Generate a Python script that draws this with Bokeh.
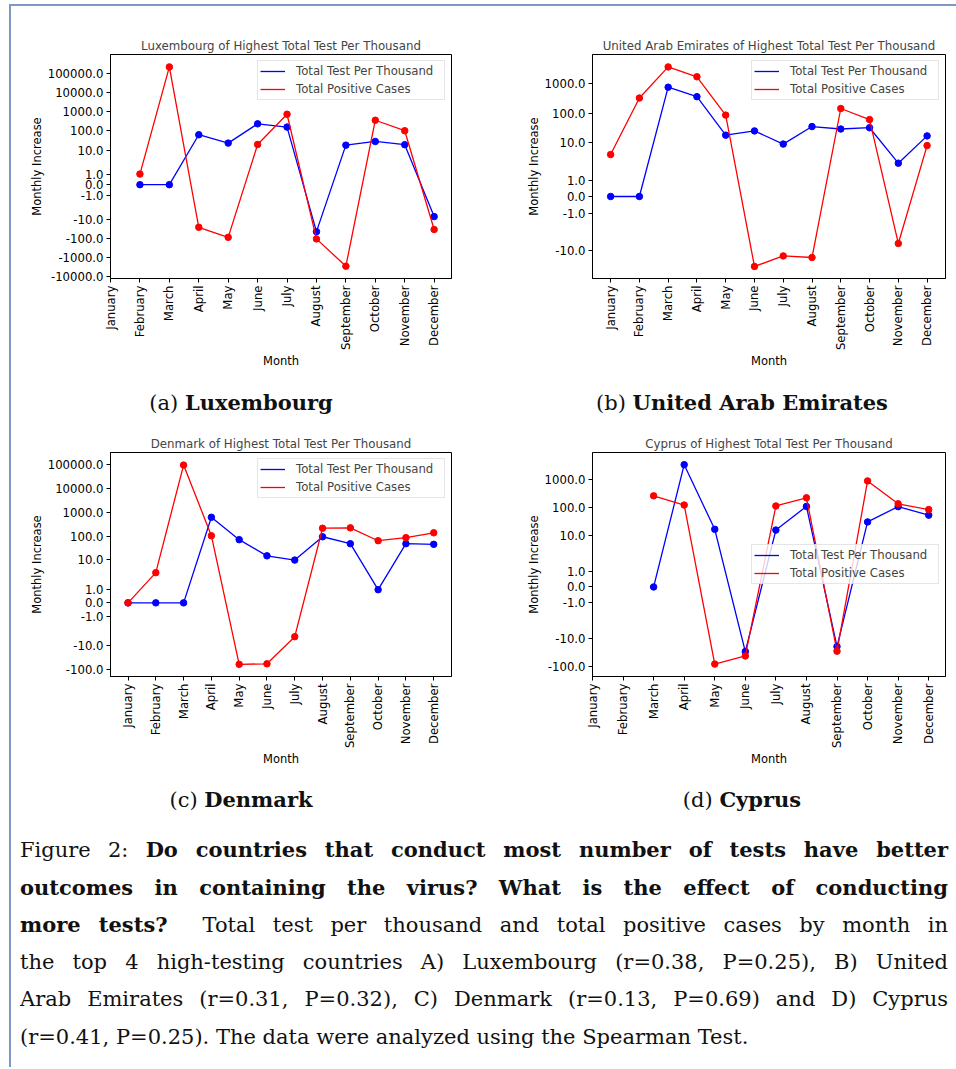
import math
from bokeh.plotting import figure
from bokeh.models import FixedTicker, CustomJSTickFormatter, Div, Range1d
from bokeh.layouts import column, row
from bokeh.embed import file_html
from bokeh.resources import INLINE

months = ["January", "February", "March", "April", "May", "June", "July",
          "August", "September", "October", "November", "December"]

# Monthly increase values (None = no data)
lux_test = [None, 0, 0, 63, 23, 234, 158, -44, 18, 28, 19, -7.2]
lux_pos = [None, 1, 219000, -26, -87, 19.5, 740, -105, -2800, 360, 102, -34]
uae_test = [0, 0, 740, 355, 18, 25, 9, 35, 29, 32, 2.05, 17]
uae_pos = [4.0, 320, 3560, 1660, 85, -35, -15.5, -17.5, 142, 60, -5.9, 8.0]
den_test = [0, 0, 0, 620, 71, 14.8, 9.8, 94, 48, 1.0, 48, 45]
den_pos = [0, 2.9, 98000, 104, -60, -57, -4.1, 215, 223, 64, 86, 138]
cyp_test = [None, None, 0, 3300, 17, -30, 16, 110, -20, 31, 108, 54]
cyp_pos = [None, None, 260, 123, -83, -43, 114, 222, -29, 880, 136, 85]

lux_yticks = [-10000, -1000, -100, -10, -1, 0, 1, 10, 100, 1000, 10000, 100000]
uae_yticks = [-10, -1, 0, 1, 10, 100, 1000]
den_yticks = [-100, -10, -1, 0, 1, 10, 100, 1000, 10000, 100000]
cyp_yticks = [-100, -10, -1, 0, 1, 10, 100, 1000]

series_names = ["Total Test Per Thousand", "Total Positive Cases"]

# symmetric log scale (linear threshold 2, linscale 1)
LT = 2.0
ADJ = 1.0 / (1.0 - 0.1)


def symlog(v):
    if abs(v) <= LT:
        return v * ADJ / LT
    return math.copysign(ADJ + math.log10(abs(v) / LT), v)


FONT = "DejaVu Sans"


def panel(title, test, pos, yticks, xr, yr, w, h, bl, br, bt, bb, legend_loc):
    p = figure(width=w, height=h, output_backend="svg", toolbar_location=None,
               x_range=Range1d(*xr), y_range=Range1d(*yr),
               min_border_left=bl, min_border_right=br,
               min_border_top=bt, min_border_bottom=bb, margin=0)
    p.title.text = title
    p.title.align = "center"
    p.title.text_font = FONT
    p.title.text_font_size = "11.8px"
    p.title.text_font_style = "normal"
    p.title.standoff = 3
    p.xgrid.visible = False
    p.ygrid.visible = False
    p.outline_line_color = "black"
    p.outline_line_width = 1
    p.background_fill_color = "white"
    p.border_fill_color = "white"

    for col, vals, name in (("#0000ff", test, series_names[0]),
                            ("#ff0000", pos, series_names[1])):
        xs = [i for i, v in enumerate(vals) if v is not None]
        ys = [symlog(v) for v in vals if v is not None]
        p.line(xs, ys, line_color=col, line_width=1.3, legend_label=name)
        p.scatter(xs, ys, size=6.5, fill_color=col, line_color=col)

    ytpos = [symlog(v) for v in yticks]
    ylabels = ["%.1f" % v for v in yticks]
    p.yaxis.ticker = FixedTicker(ticks=ytpos)
    p.yaxis.formatter = CustomJSTickFormatter(args=dict(pos=ytpos, labels=ylabels), code="""
        let best = 0, bd = 1e9;
        for (let i = 0; i < pos.length; i++) {
            const d = Math.abs(pos[i] - tick);
            if (d < bd) { bd = d; best = i; }
        }
        return labels[best];
    """)
    p.xaxis.ticker = FixedTicker(ticks=list(range(len(months))))
    p.xaxis.formatter = CustomJSTickFormatter(args=dict(months=months), code="""
        const i = Math.round(tick);
        return (i >= 0 && i < months.length) ? months[i] : "";
    """)
    p.xaxis.major_label_orientation = math.pi / 2
    p.xaxis.axis_label = "Month"
    p.yaxis.axis_label = "Monthly Increase"
    for ax in (p.xaxis[0], p.yaxis[0]):
        ax.axis_label_text_font = FONT
        ax.axis_label_text_font_size = "11.5px"
        ax.axis_label_text_font_style = "normal"
        ax.axis_label_standoff = 1
        ax.major_label_text_font = FONT
        ax.major_label_text_font_size = "11.7px"
        ax.major_label_standoff = 3
        ax.major_tick_out = 4
        ax.major_tick_in = 0
        ax.minor_tick_line_color = None
        ax.axis_line_color = "black"
        ax.major_tick_line_color = "black"
        ax.major_label_text_color = "black"
        ax.axis_label_text_color = "black"

    lg = p.legend[0]
    lg.location = legend_loc
    lg.label_text_font = FONT
    lg.label_text_font_size = "11.7px"
    lg.glyph_width = 25
    lg.glyph_height = 16
    lg.label_height = 16
    lg.label_width = 146
    lg.label_standoff = 11
    lg.padding = 2
    lg.spacing = 2
    lg.margin = 6
    lg.border_line_color = "#cccccc"
    lg.border_line_width = 1
    lg.background_fill_alpha = 0.8
    return p


p1 = panel("Luxembourg of Highest Total Test Per Thousand", lux_test, lux_pos, lux_yticks,
           (0.0, 11.59), (-4.90, 6.80), 479, 379, 99, 39, 48, 104, "top_right")
p2 = panel("United Arab Emirates of Highest Total Test Per Thousand", uae_test, uae_pos, uae_yticks,
           (-0.63, 11.64), (-2.76, 4.78), 458, 379, 102, 3, 37, 107, "top_right")
p3 = panel("Denmark of Highest Total Test Per Thousand", den_test, den_pos, den_yticks,
           (-0.63, 11.64), (-3.10, 6.33), 479, 362, 99, 39, 32, 103, "top_right")
p4 = panel("Cyprus of Highest Total Test Per Thousand", cyp_test, cyp_pos, cyp_yticks,
           (0.0, 11.55), (-3.17, 4.76), 458, 362, 102, 3, 21, 106, "center_right")

SERIF = "'DejaVu Serif', serif"


def subcap(letter, name, w, h, pl, pr):
    html = ('<div style="width:%dpx;height:%dpx;line-height:%dpx;box-sizing:border-box;'
            'padding-left:%dpx;padding-right:%dpx;text-align:center;font-family:%s;'
            'font-size:21px;color:#111;">(%s) <b>%s</b></div>') % (w, h, h, pl, pr, SERIF, letter, name)
    return Div(text=html, width=w, height=h, margin=0)


cap_a = subcap("a", "Luxembourg", 479, 35, 0, 19)
cap_b = subcap("b", "United Arab Emirates", 458, 35, 46, 0)
cap_c = subcap("c", "Denmark", 479, 36, 0, 19)
cap_d = subcap("d", "Cyprus", 458, 36, 46, 0)

caption_lines = [
    'Figure 2: <b>Do countries that conduct most number of tests have better</b>',
    '<b>outcomes in containing the virus? What is the effect of conducting</b>',
    '<b>more tests?</b>&nbsp; Total test per thousand and total positive cases by month in',
    'the top 4 high-testing countries A) Luxembourg (r=0.38, P=0.25), B) United',
    'Arab Emirates (r=0.31, P=0.32), C) Denmark (r=0.13, P=0.69) and D) Cyprus',
    '(r=0.41, P=0.25). The data were analyzed using the Spearman Test.',
]
parts = []
for i, ln in enumerate(caption_lines):
    last = "left" if i == len(caption_lines) - 1 else "justify"
    parts.append('<div style="text-align:justify;text-align-last:%s;height:37.6px;'
                 'line-height:37.6px;">%s</div>' % (last, ln))
cap_html = ('<div style="width:945px;box-sizing:border-box;padding:13px 8px 0 9px;'
            'font-family:%s;font-size:21px;color:#111;">%s</div>') % (SERIF, "".join(parts))
caption = Div(text=cap_html, width=945, height=249, margin=0)

layout = column(row(p1, p2), row(cap_a, cap_b), row(p3, p4), row(cap_c, cap_d), caption,
                margin=(4, 0, 0, 9),
                styles={"border-left": "2px solid #7f98c1", "border-top": "2px solid #7f98c1"})

open("out.html", "w").write(file_html(layout, INLINE))
